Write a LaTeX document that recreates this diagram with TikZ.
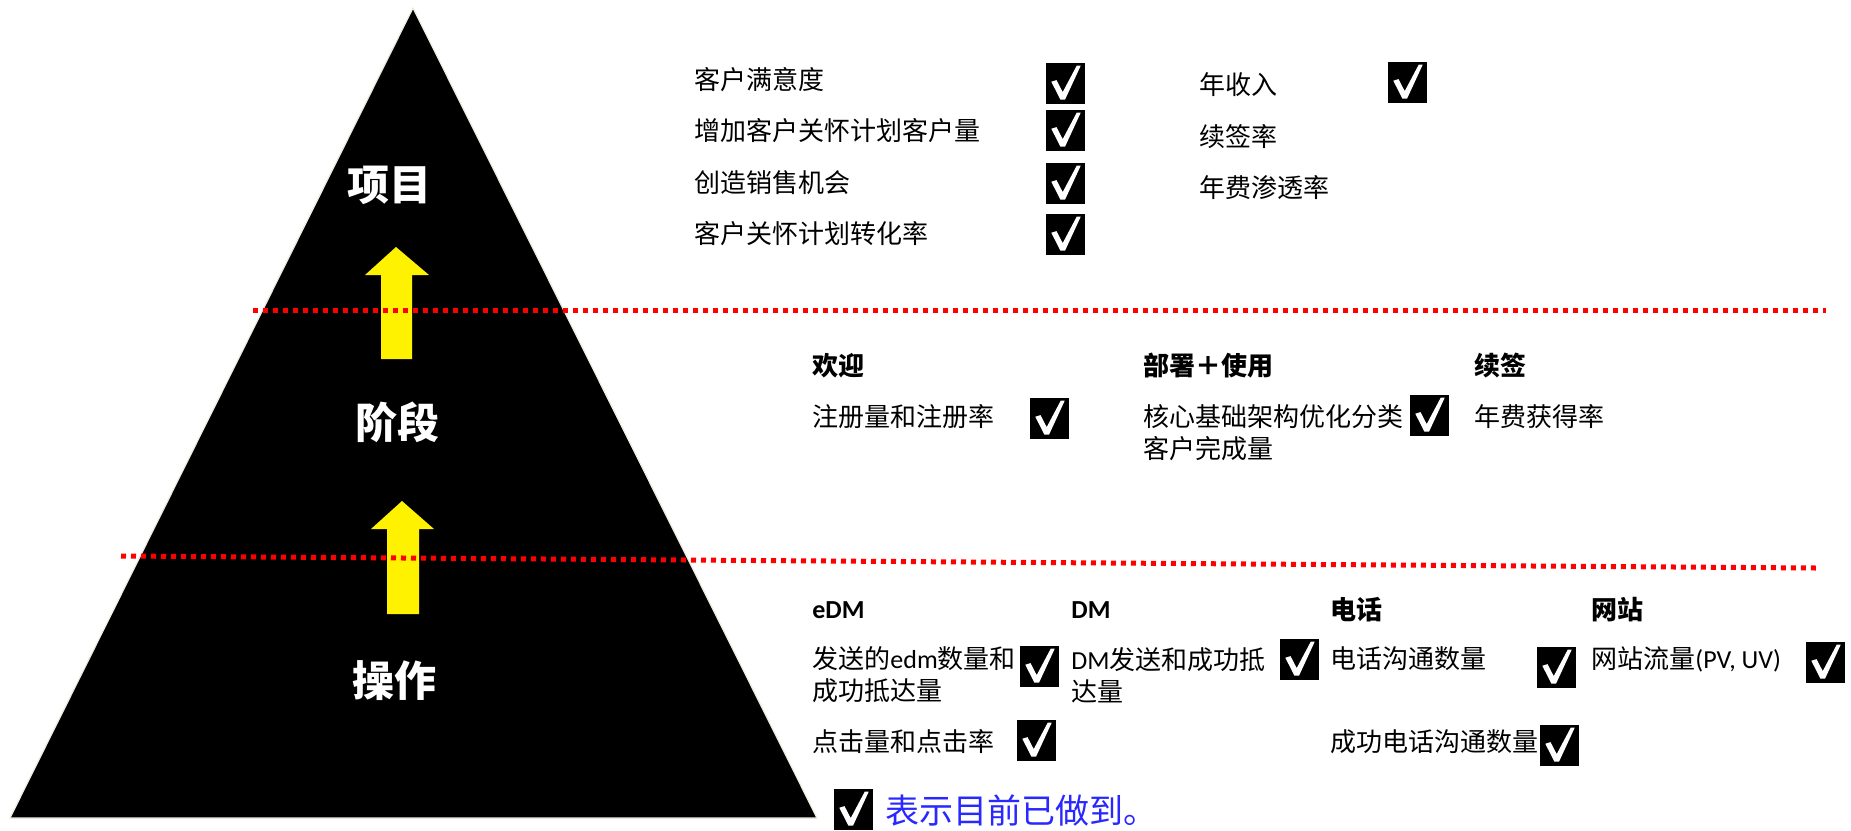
\documentclass[tikz,border=0pt]{standalone}
\usepackage{fontspec}
\setmainfont{Noto Sans CJK SC}
\newfontfamily\lat{Carlito}
\def\pp#1#2{([shift={(#1pt,-#2pt)}]path picture bounding box.north west)}
\tikzset{
  item/.style={anchor=west, inner sep=0pt, align=left, text=black, font=\fontsize{13pt}{16pt}\selectfont},
  head/.style={anchor=west, inner sep=0pt, text=black, font=\fontsize{13pt}{16pt}\selectfont\bfseries},
  tlabel/.style={text=white, inner sep=0pt, font=\fontsize{21pt}{24pt}\selectfont\bfseries},
  chk/.style={rectangle, fill=black, minimum width=19.5pt, minimum height=20.5pt, inner sep=0pt,
    path picture={\fill[white] \pp{2.9}{9.6} -- \pp{5.5}{8.8} -- \pp{8.6}{14.8} -- \pp{15.6}{1.6}
        -- \pp{17.6}{1.6} -- \pp{9.8}{18.5} -- \pp{7.4}{18.5} -- cycle;}},
  dotline/.style={red, line width=2.5pt, dash pattern=on 2.5pt off 2.5pt},
  uparrow/.style={fill=yellow},
  pyramid/.style={fill=black, draw={rgb,255:red,238;green,236;blue,225}, line width=0.6pt}
}
\begin{document}
\begin{tikzpicture}[x=0.5pt, y=-0.5pt]
\useasboundingbox (0,0) rectangle (1851,830);
% pyramid
\draw[pyramid] (413,8) -- (817,818) -- (10,818) -- cycle;
% yellow arrows
\fill[uparrow] (396,247) -- (429,275) -- (412,275) -- (412,359) -- (381,359) -- (381,275) -- (365,275) -- cycle;
\fill[uparrow] (402,501) -- (434,529) -- (419,529) -- (419,614) -- (387,614) -- (387,529) -- (371,529) -- cycle;
% dotted lines
\coordinate (l1a) at (253,310);
\coordinate (l1b) at (1826,310);
\coordinate (l2a) at (121,556);
\coordinate (l2b) at (1816,568);
\draw[dotline] (l1a) -- (l1b);
\draw[dotline] (l2a) -- (l2b);
% pyramid labels
\node[tlabel] (t1) at (389,185) {项目};
\node[tlabel] (t2) at (397,422) {阶段};
\node[tlabel] (t3) at (394,681) {操作};
% top section
\node[item] (n1) at (694,80) {客户满意度};
\node[item] (n2) at (694,131) {增加客户关怀计划客户量};
\node[item] (n3) at (694,183) {创造销售机会};
\node[item] (n4) at (694,234) {客户关怀计划转化率};
\node[item] (n5) at (1199,85) {年收入};
\node[item] (n6) at (1199,137) {续签率};
\node[item] (n7) at (1199,188) {年费渗透率};
\node[chk] (c1) at (1065,83) {};
\node[chk] (c2) at (1065,130) {};
\node[chk] (c3) at (1065,183) {};
\node[chk] (c4) at (1065,234) {};
\node[chk] (c5) at (1407,82) {};
% middle section
\node[head] (h1) at (812,366) {欢迎};
\node[head] (h2) at (1143,366) {部署＋使用};
\node[head] (h3) at (1474,366) {续签};
\node[item] (m1) at (812,417) {注册量和注册率};
\node[item] (m2) at (1143,433) {核心基础架构优化分类\\客户完成量};
\node[item] (m3) at (1474,417) {年费获得率};
\node[chk] (c6) at (1049,418) {};
\node[chk] (c7) at (1429,415) {};
% bottom section
\node[head] (h4) at (812,610) {{\lat eDM}};
\node[head] (h5) at (1071,610) {{\lat DM}};
\node[head] (h6) at (1330,610) {电话};
\node[head] (h7) at (1591,610) {网站};
\node[item] (b1) at (812,675) {发送的{\lat edm}数量和\\成功抵达量};
\node[item] (b2) at (1071,675) {{\lat DM}发送和成功抵\\达量};
\node[item] (b3) at (1330,659) {电话沟通数量};
\node[item] (b4) at (1591,659) {网站流量{\lat (PV, UV)}};
\node[item] (b5) at (812,742) {点击量和点击率};
\node[item] (b6) at (1330,742) {成功电话沟通数量};
\node[chk] (c8) at (1039,666) {};
\node[chk] (c9) at (1299,659) {};
\node[chk] (c10) at (1556,667) {};
\node[chk] (c11) at (1825,662) {};
\node[chk] (c12) at (1036,740) {};
\node[chk] (c13) at (1559,745) {};
% legend
\node[chk] (c14) at (853,809) {};
\node[anchor=west, inner sep=0pt, text={rgb,255:red,40;green,40;blue,255}, font=\fontsize{17pt}{20pt}\selectfont] (lg) at (885,810) {表示目前已做到。};
\end{tikzpicture}
\end{document}
